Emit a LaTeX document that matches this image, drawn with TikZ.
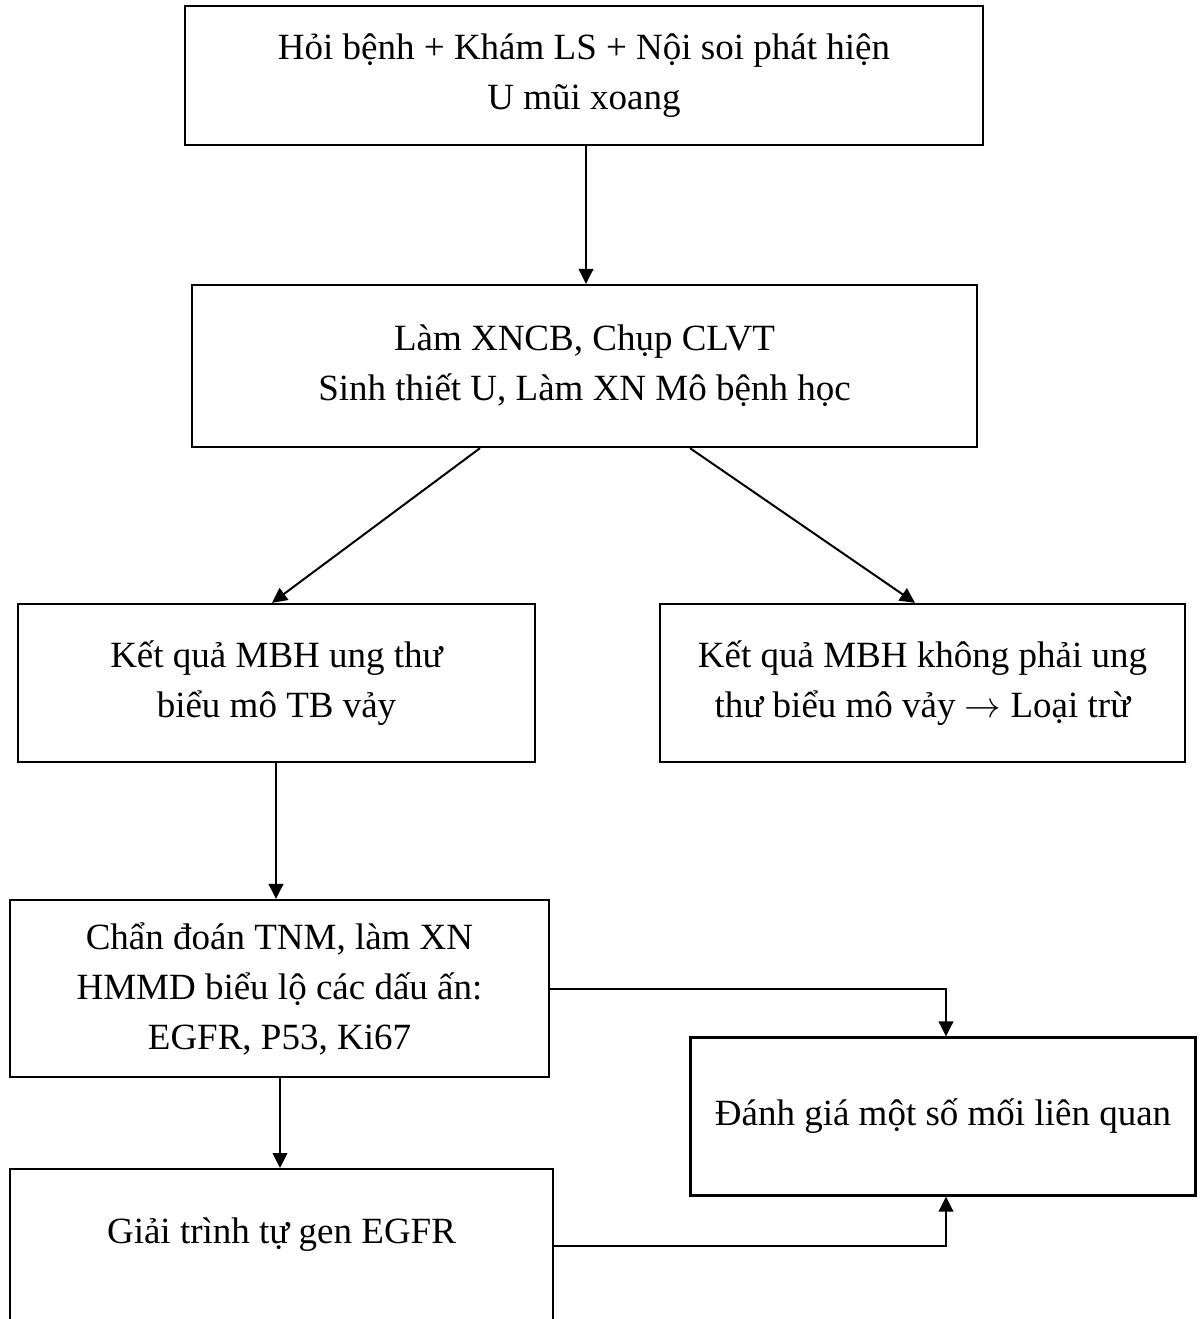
\documentclass[tikz,border=0pt]{standalone}
\usepackage{fontspec}
\setmainfont{Liberation Serif}
\usetikzlibrary{arrows.meta}
\begin{document}
\begin{tikzpicture}[x=0.3pt,y=-0.3pt,
  box/.style={draw, line width=0.7pt, rectangle, inner sep=0pt, align=center,
    font=\fontsize{11.1}{15}\selectfont},
  arr/.style={line width=0.6pt, -{Triangle[length=4.5pt,width=4.4pt]}}]
\useasboundingbox (0,0) rectangle (1200,1319);
\fill[white] (0,0) rectangle (1200,1319);
\clip (0,0) rectangle (1200,1319);

\node[box, minimum width=239.4pt, minimum height=41.7pt] (b1) at (584,75.5)
  {Hỏi bệnh + Khám LS + Nội soi phát hiện\\U mũi xoang};
\node[box, minimum width=235.5pt, minimum height=48.6pt] (b2) at (584.5,366)
  {Làm XNCB, Chụp CLVT\\Sinh thiết U, Làm XN Mô bệnh học};
\node[box, minimum width=155.1pt, minimum height=47.4pt] (b3) at (276.5,683)
  {Kết quả MBH ung thư\\biểu mô TB vảy};
\node[box, minimum width=157.5pt, minimum height=47.4pt] (b4) at (922.5,683)
  {Kết quả MBH không phải ung\\thư biểu mô vảy \(\rightarrow\) Loại trừ};
\node[box, minimum width=161.7pt, minimum height=53.1pt] (b5) at (279.5,988.5)
  {Chẩn đoán TNM, làm XN\\HMMD biểu lộ các dấu ấn:\\EGFR, P53, Ki67};
\node[box, minimum width=162.9pt, inner ysep=0pt, text height=22.2pt, text depth=60pt, anchor=north] (b6) at (281.5,1168)
  {Giải trình tự gen EGFR};
\node[box, minimum width=151.5pt, minimum height=47.4pt] (b7) at (943,1116.5)
  {Đánh giá một số mối liên quan};

\coordinate (c1) at (586,0);
\coordinate (c2a) at (480,0);
\coordinate (c2b) at (272,0);
\coordinate (c3a) at (690,0);
\coordinate (c3b) at (915,0);
\coordinate (c4) at (276,0);
\coordinate (c5) at (280,0);
\coordinate (c6) at (946,0);
\coordinate (e6) at (553,1246);

\draw[arr] (c1 |- b1.south) -- (c1 |- b2.north);
\draw[arr] (c2a |- b2.south) -- (c2b |- b3.north);
\draw[arr] (c3a |- b2.south) -- (c3b |- b4.north);
\draw[arr] (c4 |- b3.south) -- (c4 |- b5.north);
\draw[arr] (c5 |- b5.south) -- (c5 |- b6.north);
\draw[arr] (b5.east) -- (c6 |- b5.east) -- (c6 |- b7.north);
\draw[arr] (e6) -- (c6 |- e6) -- (c6 |- b7.south);
\end{tikzpicture}
\end{document}
